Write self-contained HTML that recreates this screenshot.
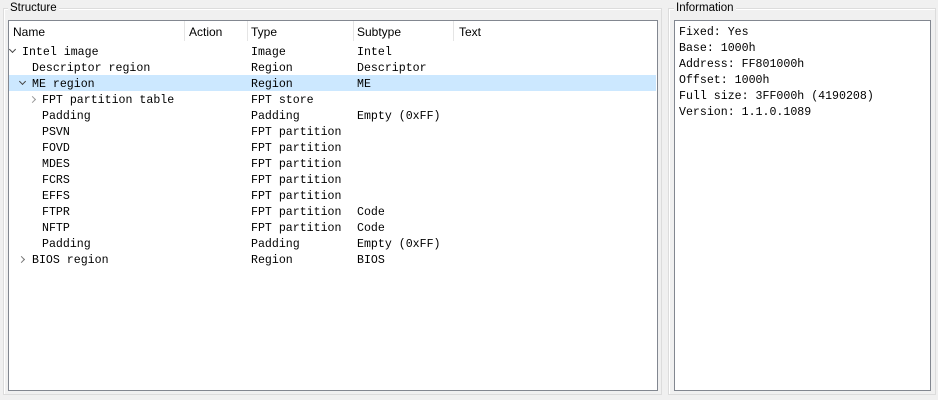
<!DOCTYPE html>
<html><head><style>
body{margin:0;width:938px;height:400px;background:#f0f0f0;position:relative;overflow:hidden;font-family:"Liberation Mono",monospace;font-size:11.6px;color:#000}
.gb{position:absolute;border:1px solid #dcdcdc;box-shadow:inset 1px 1px 0 #fff}
.lbl{position:absolute;background:#f0f0f0;font-family:"Liberation Sans",sans-serif;font-size:11.5px;padding:0 2px}
.box{position:absolute;background:#fff;border:1px solid #828790}
.t{position:absolute;white-space:pre;line-height:16px}
.h{position:absolute;font-family:"Liberation Sans",sans-serif;font-size:12px;top:25px}
.sep{position:absolute;top:21px;width:1px;height:20px;background:#e5e5e5}
.hl{position:absolute;left:9px;width:647px;top:75px;height:16px;background:#cce8ff}
.ch{position:absolute;width:4px;height:4px;border-right:1.3px solid #444;border-bottom:1.3px solid #444}
</style></head><body>
<div class="gb" style="left:3px;top:8px;width:657px;height:385px"></div>
<div class="lbl" style="left:8px;top:2px">Structure</div>
<div class="gb" style="left:668px;top:8px;width:266px;height:385px"></div>
<div class="lbl" style="left:674px;top:2px">Information</div>
<div class="box" style="left:8px;top:20px;width:648px;height:369px"></div>
<div class="box" style="left:674px;top:20px;width:255px;height:369px"></div>
<div class="hl"></div>
<div class="sep" style="left:184px"></div><div class="sep" style="left:247px"></div><div class="sep" style="left:353px"></div><div class="sep" style="left:453px"></div>
<div class="h" style="left:13px">Name</div><div class="h" style="left:189px">Action</div><div class="h" style="left:251px">Type</div><div class="h" style="left:357px">Subtype</div><div class="h" style="left:459px">Text</div>
<div class="ch" style="left:10px;top:47px;transform:rotate(45deg)"></div>
<div class="ch" style="left:20px;top:79px;transform:rotate(45deg)"></div>
<div class="ch" style="left:30px;top:97px;transform:rotate(-45deg);border-color:#999"></div>
<div class="ch" style="left:19px;top:257px;transform:rotate(-45deg);border-color:#777"></div>
<div class="t" style="left:22px;top:45px">Intel image</div>
<div class="t" style="left:32px;top:61px">Descriptor region</div>
<div class="t" style="left:32px;top:77px">ME region</div>
<div class="t" style="left:42px;top:93px">FPT partition table
Padding
PSVN
FOVD
MDES
FCRS
EFFS
FTPR
NFTP
Padding</div>
<div class="t" style="left:32px;top:253px">BIOS region</div>
<div class="t" style="left:251px;top:45px">Image
Region
Region
FPT store
Padding
FPT partition
FPT partition
FPT partition
FPT partition
FPT partition
FPT partition
FPT partition
Padding
Region</div>
<div class="t" style="left:357px;top:45px">Intel
Descriptor
ME

Empty (0xFF)





Code
Code
Empty (0xFF)
BIOS</div>
<div class="t" style="left:679px;top:25px">Fixed: Yes
Base: 1000h
Address: FF801000h
Offset: 1000h
Full size: 3FF000h (4190208)
Version: 1.1.0.1089</div>
</body></html>
